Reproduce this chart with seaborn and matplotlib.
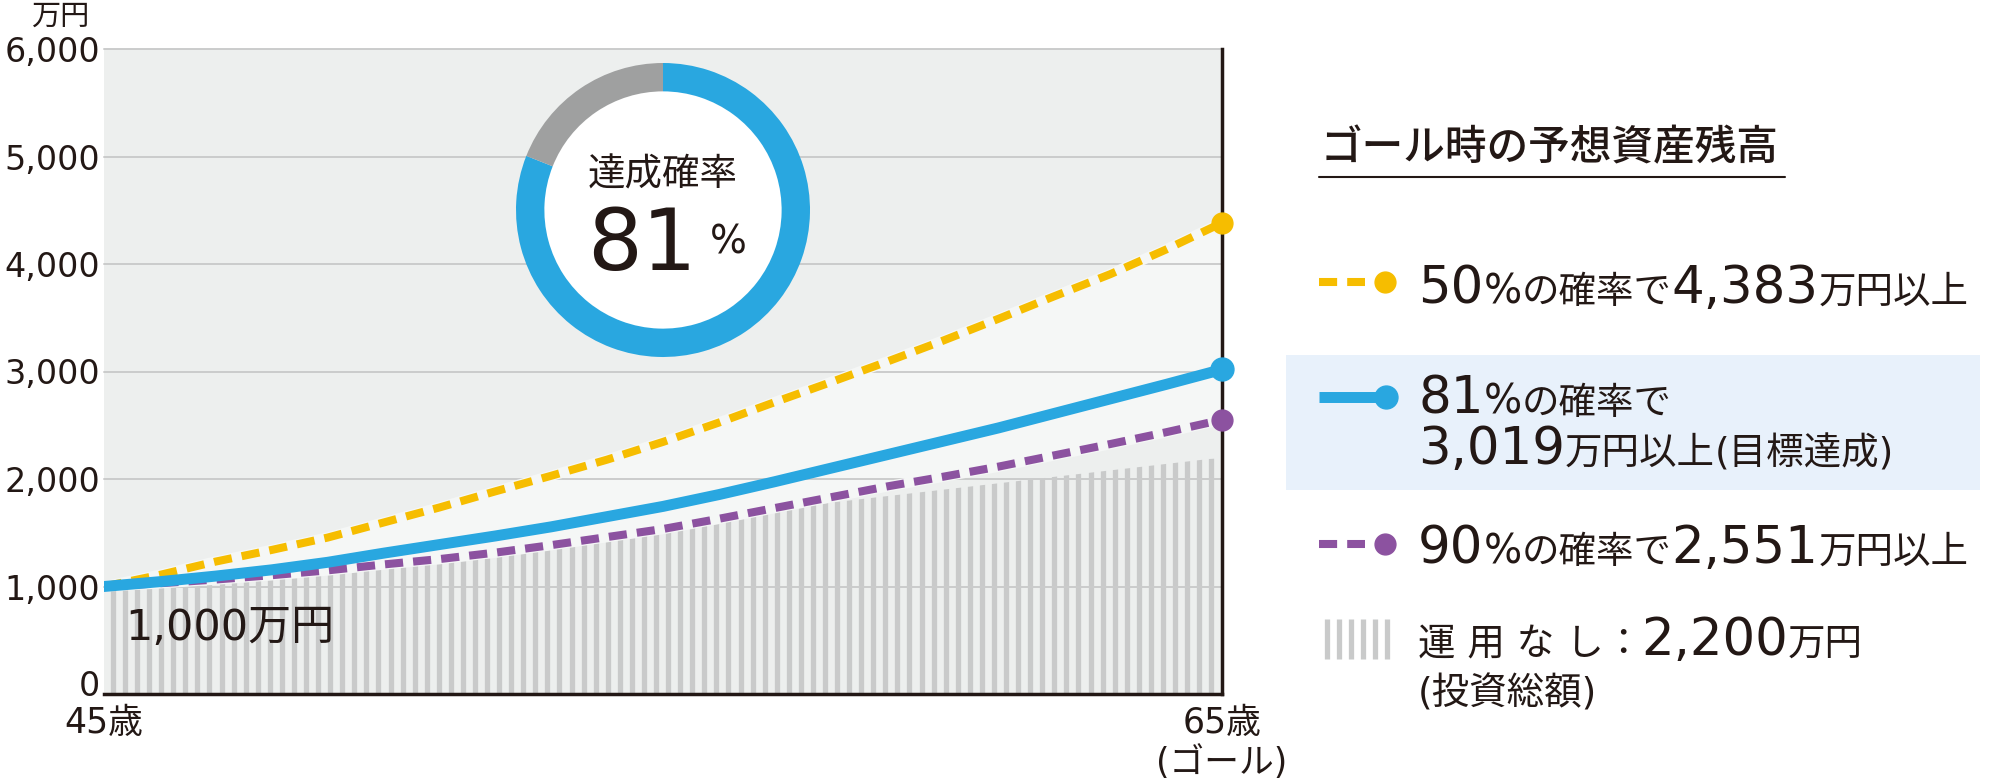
import numpy as np
import pandas as pd
import matplotlib
matplotlib.use("Agg")
import matplotlib.pyplot as plt
import seaborn as sns
from matplotlib.patches import Circle, Polygon, Rectangle
from matplotlib.transforms import ScaledTranslation

# values (万円)
ages = list(range(45, 66))
p50 = [1000, 1108, 1232, 1340, 1455, 1595, 1735, 1885, 2030, 2180, 2345,
       2525, 2715, 2900, 3090, 3285, 3490, 3700, 3905, 4135, 4383]
p81 = [1000, 1045, 1097, 1155, 1225, 1310, 1390, 1470, 1555, 1650, 1745,
       1855, 1975, 2100, 2225, 2350, 2475, 2610, 2745, 2880, 3019]
p90 = [1000, 1030, 1065, 1105, 1150, 1205, 1255, 1315, 1385, 1460, 1535,
       1630, 1730, 1830, 1930, 2020, 2115, 2220, 2325, 2435, 2551]
invested = [1000, 1060, 1120, 1180, 1240, 1300, 1360, 1420, 1480, 1540, 1600,
            1660, 1720, 1780, 1840, 1900, 1960, 2020, 2080, 2140, 2200]
probabilities = [50, 81, 90]
achieve_rate = 81
yticks = [0, 1000, 2000, 3000, 4000, 5000, 6000]
xticks = [45, 65]
xtick_labels = ["45歳", "65歳\n(ゴール)"]

YELLOW = "#f6bd00"
BLUE = "#29a7e0"
PURPLE = "#8c52a0"
DONUT_GRAY = "#9fa0a0"
BG = "#edefee"
BAND = "#f5f7f6"
STRIPE = "#c9caca"
GRID = "#cbcccc"
BOX = "#e8f1fb"
INK = "#231815"

sns.set_theme(style="white")
plt.rcParams["font.family"] = ["DejaVu Sans", "Noto Sans CJK JP"]
plt.rcParams["text.color"] = INK

W, H = 2000, 780
fig = plt.figure(figsize=(W / 100, H / 100), dpi=100)
fig.patch.set_facecolor("white")

df = pd.DataFrame({"age": ages, "p50": p50, "p81": p81, "p90": p90,
                   "invested": invested})

# main plot
ax = fig.add_axes([104 / W, 1 - 694 / H, 1118 / W, 645 / H])
ax.set_facecolor(BG)

# 運用なし area drawn as vertical stripes
area = Polygon(np.column_stack([[45] + ages + [65], [0] + invested + [0]]),
               closed=True, fc="none", ec="none")
ax.add_patch(area)
stripes = ax.vlines(np.arange(45.16, 65, 0.2159), 0, max(invested),
                    colors=STRIPE, lw=3.8, zorder=1.1)
stripes.set_clip_path(area)

# light band between 90% and 50% lines
ax.fill_between(df["age"], df["p90"], df["p50"], color=BAND, lw=0, zorder=1.2)

for v in yticks[1:]:
    ax.axhline(v, color=GRID, lw=1.4, zorder=1.5, clip_on=False)

# halos under dashed lines
for col in ["p50", "p90"]:
    sns.lineplot(data=df, x="age", y=col, ax=ax, color=BAND, lw=7.6, zorder=2)

sns.lineplot(data=df, x="age", y="p90", ax=ax, color=PURPLE, lw=5.8, zorder=3)
ax.lines[-1].set_dashes((2.25, 1.25))
sns.lineplot(data=df, x="age", y="p50", ax=ax, color=YELLOW, lw=5.8, zorder=3)
ax.lines[-1].set_dashes((2.25, 1.25))
sns.lineplot(data=df, x="age", y="p81", ax=ax, color=BLUE, lw=7.9, zorder=4)

ax.plot([ages[-1]], [p50[-1]], "o", ms=15, color=YELLOW, clip_on=False, zorder=6)
ax.plot([ages[-1]], [p81[-1]], "o", ms=16.5, color=BLUE, clip_on=False, zorder=6)
ax.plot([ages[-1]], [p90[-1]], "o", ms=15, color=PURPLE, clip_on=False, zorder=6)

ax.set_xlim(45, 65)
ax.set_ylim(0, 6000)
ax.set_xlabel("")
ax.set_ylabel("")
for s in ["left", "top"]:
    ax.spines[s].set_visible(False)
for s in ["bottom", "right"]:
    ax.spines[s].set_color(INK)
    ax.spines[s].set_linewidth(2.5)
    ax.spines[s].set_zorder(5)

ax.set_yticks(yticks, [f"{v:,}" for v in yticks])
ax.set_xticks(xticks, xtick_labels)
ax.tick_params(axis="y", length=0, pad=3, labelsize=24, labelcolor=INK)
ax.tick_params(axis="x", length=0, pad=9, labelsize=25, labelcolor=INK)
for lbl in ax.get_xticklabels():
    lbl.set_linespacing(1.18)
zero_lbl = ax.get_yticklabels()[0]
zero_lbl.set_transform(zero_lbl.get_transform()
                       + ScaledTranslation(0, 0.11, fig.dpi_scale_trans))

# donut
dax = fig.add_axes([516 / W, 1 - 357 / H, 294 / W, 294 / H], zorder=5)
dax.pie([achieve_rate, 100 - achieve_rate], colors=[BLUE, DONUT_GRAY],
        startangle=90, counterclock=False, radius=1,
        wedgeprops=dict(width=0.193, edgecolor="none"))
dax.add_patch(Circle((0, 0), 0.807, color="white", zorder=0))
dax.set_xlim(-1, 1)
dax.set_ylim(-1, 1)
dax.set_aspect("equal")
dax.axis("off")

# overlay in pixel coordinates for texts and legend
ov = fig.add_axes([0, 0, 1, 1], zorder=10)
ov.set_xlim(0, W)
ov.set_ylim(H, 0)
ov.axis("off")
ov.patch.set_alpha(0)

renderer = fig.canvas.get_renderer()


def rich(x, y, parts, **kw):
    for s, size in parts:
        t = ov.text(x, y, s, fontsize=size, ha="left", va="baseline",
                    color=INK, **kw)
        x += t.get_window_extent(renderer).width


BIG, PCT, MID = 37, 29, 27

ov.text(60, 17, "万円", fontsize=21, ha="center", va="center", color=INK)
ov.text(125, 640, f"{p50[0]:,}万円", fontsize=31, ha="left", va="baseline", color=INK)

ov.text(663, 185, "達成確率", fontsize=27, ha="center", va="baseline", color=INK)
ov.text(642, 270, f"{achieve_rate}", fontsize=62, ha="center", va="baseline", color=INK)
ov.text(710, 253, "%", fontsize=28, ha="left", va="baseline", color=INK)

# legend
ov.text(1321, 160, "ゴール時の予想資産残高", fontsize=30, ha="left",
        va="baseline", color=INK, fontweight="medium")
ov.plot([1319, 1785], [177, 177], color=INK, lw=1.5)

ov.add_patch(Rectangle((1286, 355), 694, 135, color=BOX, lw=0, zorder=0))

ov.plot([1319, 1365], [282, 282], color=YELLOW, lw=5.8, dashes=(2.25, 1.25))
ov.plot([1385], [282], "o", ms=15, color=YELLOW)
rich(1418, 303, [(f"{probabilities[0]}", BIG), ("%", PCT), ("の確率で", MID),
                 (f"{p50[-1]:,}", BIG), ("万円以上", MID)])

ov.plot([1319, 1386], [397, 397], color=BLUE, lw=7.9, solid_capstyle="butt")
ov.plot([1386], [397], "o", ms=16.5, color=BLUE)
rich(1418, 414, [(f"{probabilities[1]}", BIG), ("%", PCT), ("の確率で", MID)])
rich(1418, 464, [(f"{p81[-1]:,}", BIG), ("万円以上", MID), ("(目標達成)", MID)])

ov.plot([1319, 1365], [544, 544], color=PURPLE, lw=5.8, dashes=(2.25, 1.25))
ov.plot([1385], [544], "o", ms=15, color=PURPLE)
rich(1418, 563, [(f"{probabilities[2]}", BIG), ("%", PCT), ("の確率で", MID),
                 (f"{p90[-1]:,}", BIG), ("万円以上", MID)])

ov.vlines(1326.6 + 12.07 * np.arange(6), 619, 659, colors=STRIPE, lw=3.8)
rich(1418, 655, [("運 用 な し", MID), ("：", MID), (f"{invested[-1]:,}", BIG),
                 ("万円", MID)])
rich(1418, 705, [("(投資総額)", MID)])

fig.savefig("out.png", dpi=100, facecolor="white")
